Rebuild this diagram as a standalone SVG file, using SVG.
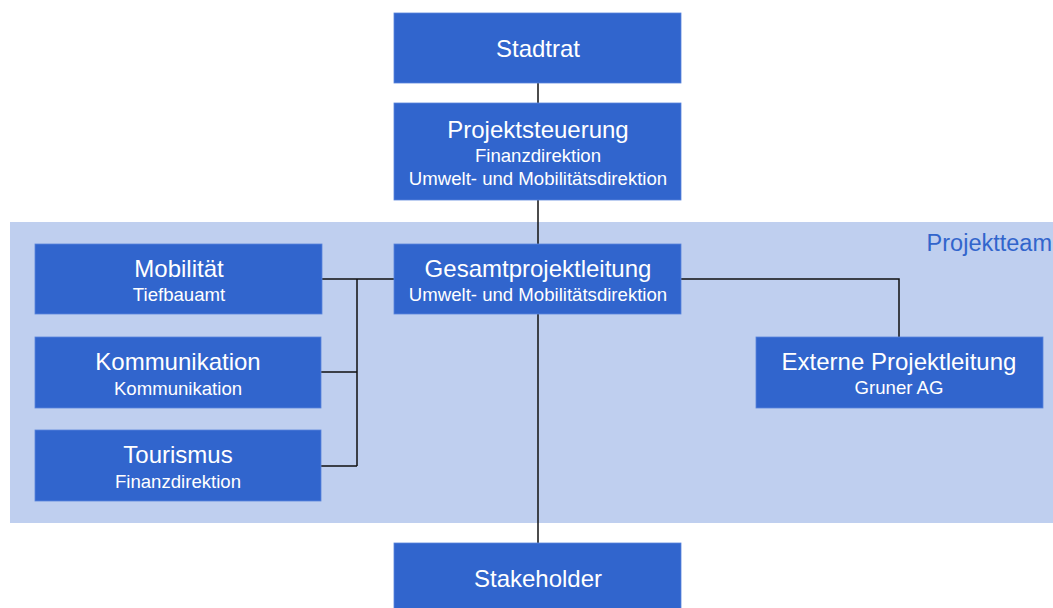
<svg xmlns="http://www.w3.org/2000/svg" width="1053" height="608" viewBox="0 0 1053 608">
<style>
.box{fill:#3165cd;stroke:#5a86dc;stroke-width:0.8}
.t{font-family:"Liberation Sans",Arial,sans-serif;fill:#fff;text-anchor:middle}
.h{font-size:24px}
.s{font-size:18.6px}
.ln{stroke:#111;stroke-width:1.5;fill:none}
</style>
<rect x="10" y="222" width="1043" height="301" fill="#bfcfef"/>
<text x="1052" y="251" font-family="Liberation Sans,Arial,sans-serif" font-size="23.5" fill="#3265cc" text-anchor="end">Projektteam</text>
<g id="connectors">
<path class="ln" d="M538 83V543"/>
<path class="ln" d="M322 279H394M357 279V466M321 372H357M321 466H357"/>
<path class="ln" d="M681 279H899V337"/>
</g>
<g id="stadtrat"><rect class="box" x="394" y="13" width="287" height="70"/><text class="t h" x="538" y="57">Stadtrat</text></g>
<g id="projektsteuerung"><rect class="box" x="394" y="103" width="287" height="97"/><text class="t h" x="538" y="138">Projektsteuerung</text><text class="t s" x="538" y="162">Finanzdirektion</text><text class="t s" x="538" y="185">Umwelt- und Mobilitätsdirektion</text></g>
<g id="gesamtprojektleitung"><rect class="box" x="394" y="244" width="287" height="70"/><text class="t h" x="538" y="277">Gesamtprojektleitung</text><text class="t s" x="538" y="301">Umwelt- und Mobilitätsdirektion</text></g>
<g id="mobilitaet"><rect class="box" x="35" y="244" width="287" height="70"/><text class="t h" x="179" y="277">Mobilität</text><text class="t s" x="179" y="301">Tiefbauamt</text></g>
<g id="kommunikation"><rect class="box" x="35" y="337" width="286" height="71"/><text class="t h" x="178" y="370">Kommunikation</text><text class="t s" x="178" y="395">Kommunikation</text></g>
<g id="tourismus"><rect class="box" x="35" y="430" width="286" height="71"/><text class="t h" x="178" y="463">Tourismus</text><text class="t s" x="178" y="488">Finanzdirektion</text></g>
<g id="externe"><rect class="box" x="756" y="337" width="287" height="71"/><text class="t h" x="899" y="370">Externe Projektleitung</text><text class="t s" x="899" y="394">Gruner AG</text></g>
<g id="stakeholder"><rect class="box" x="394" y="543" width="287" height="70"/><text class="t h" x="538" y="587">Stakeholder</text></g>
</svg>
